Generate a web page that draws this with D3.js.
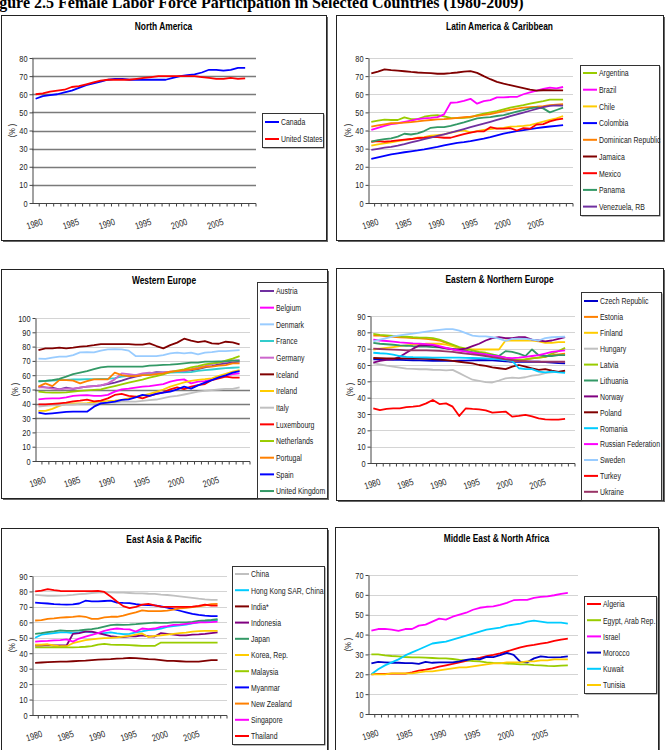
<!DOCTYPE html>
<html>
<head>
<meta charset="utf-8">
<script src="https://cdn.jsdelivr.net/npm/d3@7"></script>
<style>
  body { margin: 0; background: #fff; }
  svg { display: block; font-family: "Liberation Sans", Arial, sans-serif; }
</style>
</head>
<body>
<div id="chart"></div>
<script>
// categories
const years = [1980, 1981, 1982, 1983, 1984, 1985, 1986, 1987, 1988, 1989, 1990, 1991, 1992, 1993, 1994,
  1995, 1996, 1997, 1998, 1999, 2000, 2001, 2002, 2003, 2004, 2005, 2006, 2007, 2008, 2009];
const axisYears = years.concat([2010]); // excel leaves one empty slot at the end
const tickYears = [1980, 1985, 1990, 1995, 2000, 2005];

// North America
const naCountries = ["Canada", "United States"];
const canada = [57.5,59,59.5,60,61,62,63.5,65,66,67,68,68.5,68.5,68,68,68,68,68,68,69,70,70.5,71,72,73.5,73.5,73,73.5,74.5,74.5];
const unitedStates = [60,60.5,61.5,62,62.5,64,64.5,65.5,66.5,67.5,68,68,68,68,68.5,69,69.5,70,70,70,70,70,70,69.5,69,68.5,68.5,69,68.5,68.8];

// Latin America & Caribbean
const laCountries = ["Argentina", "Brazil", "Chile", "Colombia", "Dominican Republic", "Jamaica", "Mexico", "Panama", "Venezuela, RB"];
const argentina = [44.8,45.5,46,45.8,45.8,47.2,46.3,46.3,47.6,48.2,48.5,47.8,47,46.8,47,47.2,48.5,49.3,50,50.7,51.7,52.6,53.3,54,54.8,55.5,56.2,57,57,57];
const brazil = [40.3,41.5,42.6,43.5,44,44.8,45.5,46.3,46.7,47,47.4,48.9,55.3,55.5,56.4,57.5,54.8,56.2,56.8,58.3,58.3,58.5,58.5,60,61,62,62.9,63.6,63.2,64];
const chile = [31.6,32.4,32.9,33.5,34.2,34.7,35.3,36,36.4,37.1,37.5,37.9,38.8,39.5,40.1,39,39.7,40.3,40.8,41.2,41.5,42.1,42.3,42.6,43,43.9,44.9,45.8,46.7,48];
const colombia = [24.3,25.2,26,26.8,27.4,28,28.5,29,29.6,30.3,31,31.8,32.5,33.2,33.6,34.1,34.8,35.5,36.3,37.3,38.3,39,39.6,40.2,40.8,41.3,41.8,42.2,42.6,43];
const dominicanRep = [42.1,42.8,43.4,44,44.1,44.3,44.6,45,45.5,45.8,46.1,46.3,46.6,47,47.3,47.6,48.1,48.6,49.1,49.8,50.7,51.4,52.1,52.6,52.9,53.1,53.5,54,54.3,54.6];
const jamaica = [71.5,72.5,73.7,73.3,73,72.7,72.3,72,71.8,71.6,71.3,71.3,71.6,72,72.5,72.8,71.8,70,68.3,66.8,65.8,65,64.2,63.4,62.5,62,62.2,62.2,62.1,62.1];
const mexico = [33.8,34.1,33.8,34.1,34.6,35,35.3,35.8,36,36.3,36.3,36,36,37,38,38.8,39.5,39.5,41.8,41,41,41.3,40,41.3,41,43.3,43.5,45,46,46.5];
const panama = [33.8,34.7,35.2,35.7,36.6,38.2,37.8,38.4,39.7,41.5,41.9,41.9,42.6,43.5,44.5,45.6,46.7,47.1,47.4,48,48.5,49.4,50.4,51.3,52.2,52.8,52.2,50,51.3,52.6];
const venezuela = [29.3,29.9,30.5,31,31.7,32.5,33.4,34.3,35.2,36.1,37,37.9,38.8,39.8,40.8,41.8,42.8,43.8,44.8,45.8,46.8,47.9,48.9,49.9,50.9,51.9,52.9,53.6,53.9,53.7];

// Western Europe
const weCountries = ["Austria", "Belgium", "Denmark", "France", "Germany", "Iceland", "Ireland", "Italy", "Luxembourg", "Netherlands", "Portugal", "Spain", "United Kingdom"];
const austria = [52,51.5,51.3,50.1,51.3,50.5,51.3,52,52.4,52.9,53.8,54.8,56.2,57.8,59,60,61.3,62.2,62,62.2,62.5,62.9,63.4,64.3,65.5,66.4,67.6,68.3,69,69.5];
const belgium = [43.1,43.6,43.8,43.8,44.5,45.5,45.9,46,45.6,45.5,46.2,48.5,50.1,50.6,51.3,52,52.4,53.1,53.8,55.5,56.6,57.1,54.3,55.5,55.8,57.1,59,59.9,60.8,61.3];
const denmark = [71.6,71.4,72.3,73,73,74.1,76,76.2,76,77.2,78.1,78.3,78.1,77.2,73.4,73.4,73.4,73.4,74.1,75.3,75.8,75.3,75.8,74.6,75.8,76.2,76.9,76.9,77.2,77.6];
const france = [55.5,56,56.3,56.5,56.8,57,57,57.2,57.3,57.5,57.5,58,59,59.5,60,60.5,61,61.2,61.5,61.8,62,62,62.2,63,63.5,64,64.5,65,65.2,65.5];
const germany = [51.5,51.5,50.6,50.1,50.6,50.6,51.3,52,52.4,52.9,54.3,57.1,61.3,60.8,60.1,61.3,61.8,61.3,61.8,62.5,62.9,63.1,64.1,65.5,66.4,67.8,68.8,69.5,70.2,70.6];
const iceland = [77.6,78.8,78.8,79.3,78.8,79.3,80,80.4,81,81.8,81.8,81.8,81.8,81.8,81.4,81.4,82.3,80.4,78.8,81,82.8,85.5,84.1,83.2,83.9,82.3,82,83.4,83,81.6];
const ireland = [35,35,36.5,38.5,40,40.2,40.2,40.5,41,41.5,41.8,42.2,42.8,43.8,45,45.8,46.9,48.3,50,52,53.5,55,56,56.8,57.2,57.8,59.5,61,62.5,63.5];
const italy = [38,38.5,39,39,39.5,39.5,40,40,40,40.5,41,41,41.5,41.5,41.5,42,42.5,43,44,45,45.5,46.5,47.5,48.5,49,49.5,50,50.5,50.5,51.5];
const luxembourg = [39.6,39.6,39.9,40.3,40.8,41.7,42.2,42.9,41.7,42.2,43.8,46.2,46.9,45.5,45,43.8,45.5,46.9,48,50.1,51.5,50.3,52,53.1,53.8,56.6,57.8,59,58.3,58.3];
const netherlands = [48.5,48,47.8,47.8,48,48.5,49,49.4,49.7,50.1,51.3,52.4,53.6,54.8,55.9,56.9,58.3,59.4,60.6,62.2,63.2,64.1,65.5,66.4,67.6,68.3,68.8,70.2,71.6,73.4];
const portugal = [52,54.3,52.4,56.6,56.6,56.2,54.3,55.9,57.1,57.1,57.1,61.8,60.1,59.4,59.4,60,60,60.8,61.3,62.5,62.9,63.6,64.1,64.6,66,66,66.7,67.1,68.3,68.3];
const spain = [33.8,32.9,33.3,33.8,34.3,34.5,34.5,34.5,38,40.3,40.8,41.5,42.7,43.1,44.5,46.2,45.5,46.9,47.8,48.5,50.1,52,50.6,52.9,54.8,56.6,58.5,59.9,61.8,62.9];
const unitedKingdom = [55.9,56,56.5,57.5,59,60.8,61.8,62.8,64.2,65.5,66,66,66,66,66,66,66.7,66.9,67.2,67.4,67.8,68.3,68.8,68.8,69.5,69.5,69.7,69.7,70.2,70.2];

// Eastern & Northern Europe
const enCountries = ["Czech Republic", "Estonia", "Finland", "Hungary", "Latvia", "Lithuania", "Norway", "Poland", "Romania", "Russian Federation", "Sweden", "Turkey", "Ukraine"];
const czech = [63.5,63.4,63.3,63.2,63.1,63,62.9,62.8,62.7,62.6,62.5,62.5,62.5,62.6,62.7,62.8,62.9,63,62.8,62.5,62.2,62,62,62,62,62,61.8,61.5,61.2,61];
const estonia = [78,78,77.5,77.2,77,76.8,76.5,76.3,76,75.5,75,73.5,72,70.5,69,67.5,66.5,66,65,64,63,62.5,62.5,63.5,64,64.5,65,66,66.5,67];
const finland = [69.5,70,70.5,71,71.5,72,72.5,72.5,73,73,73,72.5,71.5,70.5,70,69.5,69.5,69.5,69.5,69.5,75,75,75,75,75,74.5,73.5,73.5,74,74];
const hungary = [61,60.4,59.6,59,58.4,57.8,57.6,57.4,57.4,57.1,57,56.7,57,55,53,51,50.3,49.5,49.3,50.5,51.8,52.3,52,52.5,53.5,54,55,55.5,56,56.3];
const latvia = [79,78.5,78.2,77.8,77.5,77.3,77,76.8,76.7,76.5,75.5,74,72.5,71,70,69,68,67.5,66.5,65.5,64.5,63.5,63.3,63.5,64,64.5,65,67,68.5,70.5];
const lithuania = [73.5,73,72.7,72.4,72,71.8,71.5,71.3,71.2,71,70.8,70.3,69.8,69.2,68.5,67.8,67.2,66.5,66,65.5,68.5,68,67,65.5,69.5,66,65.5,65.5,66,66];
const norway = [61.5,62.5,63.2,63.5,65,67.5,70,72,72.2,72,71,70.2,69.5,69.5,70,71.5,73,75,76.5,77,76.5,76.5,77,77,75.5,75,74.5,75,76,77];
const poland = [64.3,64.2,64.1,64,64,64,64,63.9,63.8,63.6,63.3,63,62.5,62,61.5,61,60,59.5,58.5,58,57.5,59,60,59,58,57,57.5,56.5,55.8,56.5];
const romania = [67.5,67.2,67,66.3,65.5,65,64.8,64.7,64.6,64.5,64.5,64.5,64.5,64.5,64.4,64.3,64.2,64,63.8,63.5,63,62.5,58,57.5,57.5,56,55.5,56,55.5,55.2];
const russia = [75.5,75,74.7,74.3,73.9,73.6,73.3,73.1,72.8,72.5,71.5,70.5,69.5,68.8,68.2,67.5,67,66.5,65.8,65.2,64.5,64.2,64.5,65,65.5,66,67,68,68.5,69];
const sweden = [74.5,75.5,76.5,77.5,78.2,78.7,79.2,79.8,80.4,81,81.5,82,82,81,79.5,78,77.5,77.5,77,76.2,74.8,76,76.2,76,75.5,75,76.5,77,77.2,77.3];
const turkey = [33.5,32.4,33.2,33.5,33.5,34.2,34.5,35,36.5,38.6,36.1,36.5,34.5,28.8,33.5,33.1,32.8,32.2,30.8,31.2,31.5,28.4,28.8,29.5,28.5,27.3,26.7,26.6,26.6,27];
const ukraine = [70,69.8,69.6,69.4,69.2,69,69,69,69,68.8,68.6,68.3,68,67.5,67,66.5,66,65.5,64.8,64.2,63.5,63,62.5,62.3,62.1,62,62,62,62,62];

// East Asia & Pacific
const eaCountries = ["China", "Hong Kong SAR, China", "India*", "Indonesia", "Japan", "Korea, Rep.", "Malaysia", "Myanmar", "New Zealand", "Singapore", "Thailand"];
const china = [77.8,77.5,77.2,77.2,77.3,77.5,77.8,78.2,78.5,79,79.3,79.4,79.4,79.3,79.2,79,78.8,78.7,78.5,78.4,78,77.7,77.3,76.8,76.3,75.8,75.3,74.9,74.6,74.5];
const hongKong = [50,52,52.5,53,53.5,53.5,53,53.5,54,53.5,53,53,53.5,52.8,52.3,52.5,53.5,54.2,55,55.3,56,57,57.5,58,58.5,59.3,60,60.5,61,61.5];
const india = [33.8,34,34.2,34.4,34.5,34.6,34.8,35,35.2,35.5,35.8,36,36.2,36.5,36.7,37,36.8,36.5,36.2,36,35.5,35,35,34.8,34.6,34.5,34.5,35,35.5,35.5];
const indonesia = [45,45,45.2,45,45,45,52.5,53,54,54,53,52,51,50.5,50.5,51,51,51.5,51,50.8,53,52.5,52,51.5,51.5,52,52.2,52.5,53,53.5];
const japan = [52.5,53,53.7,54.2,54.8,54.5,54.5,54.8,55.2,55.6,56.2,57.2,58.2,58.5,58.3,58.5,58.8,59.2,59.5,59.8,59.7,59.7,60,60,60,60.3,61,61.2,61.5,62];
const korea = [45.5,45.5,45.8,45,44.5,44.5,46.5,47.5,48.5,49,49.5,49.8,50,50.3,50.8,51.2,52,52.8,50.5,51.2,51.5,52,52.5,53,53.3,54,54.3,54.5,54.5,54.5];
const malaysia = [43.8,43.8,43.8,43.8,43.8,43.8,43.8,43.9,44.2,44.6,45.5,46,45.6,45.4,45.4,45.2,45,44.8,44.7,44.7,46.9,46.9,46.9,46.9,46.9,46.9,46.9,46.9,46.9,46.9];
const myanmar = [72.8,72.5,72.2,71.8,71.6,71.5,71.6,72.2,74,73.6,73.6,73.8,74,72.8,72.6,72.5,71.8,71.3,71.2,71,70.4,69.5,68.5,67.5,66.5,65.5,64.8,64.3,64,64];
const newZealand = [61.2,61.4,62.3,62.5,63,63.3,63.5,64,63.6,62.2,62.3,63.2,63.6,63.6,64.3,65.5,66.5,67.8,67.2,67.2,67.3,67.6,68.2,69,69.4,69.9,70.4,71,71.8,72];
const singapore = [47.5,47.8,48,48.3,48.5,49,47.5,49.5,50.8,51.8,53,54.5,55.5,56,55.6,55.5,54,56,55.6,56,57,57.5,58.3,58.5,59,59.5,60,60,60.2,60.5];
const thailand = [80,80.5,81.5,80.8,80.3,80.2,80.2,80.2,80.2,80.2,80.3,79.7,76.7,73.5,70.5,69.2,70,71.5,72,71,70.2,70,70,70,70,70.2,70.6,71.5,70.8,70.8];

// Middle East & North Africa
const meCountries = ["Algeria", "Egypt, Arab Rep.", "Israel", "Morocco", "Kuwait", "Tunisia"];
const algeria = [20,20.2,20.2,20.3,20.3,20.3,21,21.8,22.3,23,23.8,24.5,25.2,26,26.7,27.5,28.3,29.2,29.8,30.5,31.5,32.5,33.5,34.3,34.8,35.4,36,36.8,37.5,38];
const egypt = [30,30,29.5,29.2,29,28.7,28.5,28.5,28.4,28.2,28,28,27.7,27.3,27,26.7,26.5,26,25.7,25.6,25.4,25.2,25,25,24.6,24.5,24.2,24.1,24.4,24.5];
const israel = [42,42.8,42.9,42.5,41.9,42.8,42.8,44.5,45,46.5,48,47.5,49,50,51,52.5,53.5,54,54.2,55,56,57.3,57.5,57.5,58.5,59,59.2,59.8,60.5,61];
const morocco = [25.5,26.2,26,25.8,25.8,25.6,25.6,25.2,26.2,25.8,26,26,26,26.5,27.2,27.8,27.5,28.8,28.6,29.6,30.8,29.8,26.2,26,28,29,28.6,28.5,28.6,29];
const kuwait = [20,22.5,24.5,26,27.5,29.5,31,32.5,34,35.5,36,36.5,37.5,38.5,39.5,40.5,41.5,42.5,43,43.5,44.5,45,45.5,46.5,47,46.5,46,46,46,45.5];
const tunisia = [20,20,20,20.5,20.5,20.5,20.5,21,21.5,21.5,22,22.5,23,23.5,23.5,24,24.5,25,25.5,25.5,26,26,26,26.5,26.5,27,27,27.5,27.5,27.5];

const panels = [
  { title: "North America", names: naCountries, series: [canada, unitedStates],
    colors: ["#0000FF", "#FF0000"],
    box: [1, 15, 326, 240], plot: [32, 256, 58, 203], yMax: 80, darkGrid: [10, 20, 30, 40, 50, 60, 70, 80],
    legend: [262, 113, 323, 147], legendY: 122, legendStep: 17 },
  { title: "Latin America & Caribbean", names: laCountries,
    series: [argentina, brazil, chile, colombia, dominicanRep, jamaica, mexico, panama, venezuela],
    colors: ["#99CC00", "#FF00FF", "#FFCC00", "#0000FF", "#FF8000", "#800000", "#FF0000", "#339966", "#7030A0"],
    box: [336, 15, 663, 240], plot: [368, 573, 58, 203], yMax: 80, darkGrid: [],
    legend: [580, 65, 659, 215], legendY: 73, legendStep: 16.7 },
  { title: "Western Europe", names: weCountries,
    series: [austria, belgium, denmark, france, germany, iceland, ireland, italy, luxembourg, netherlands, portugal, spain, unitedKingdom],
    colors: ["#7030A0", "#FF00FF", "#99CCFF", "#33CCCC", "#CC66CC", "#800000", "#FFCC00", "#C0C0C0", "#FF0000", "#99CC00", "#FF8000", "#0000FF", "#339966"],
    box: [1, 269, 327, 498], plot: [35, 250, 318, 461], yMax: 100, darkGrid: [30, 40, 50],
    legend: [257, 282, 327, 498], legendY: 291, legendStep: 16.67 },
  { title: "Eastern & Northern Europe", names: enCountries,
    series: [czech, estonia, finland, hungary, latvia, lithuania, norway, poland, romania, russia, sweden, turkey, ukraine],
    colors: ["#0000CC", "#FF8000", "#FFCC00", "#C0C0C0", "#99CC00", "#339966", "#800080", "#800000", "#00CCFF", "#FF00FF", "#99CCFF", "#FF0000", "#993366"],
    box: [336, 268, 663, 500], plot: [370, 575, 316, 463], yMax: 90, darkGrid: [],
    legend: [581, 292, 661, 500], legendY: 301, legendStep: 15.9 },
  { title: "East Asia & Pacific", names: eaCountries,
    series: [china, hongKong, india, indonesia, japan, korea, malaysia, myanmar, newZealand, singapore, thailand],
    colors: ["#C0C0C0", "#00CCFF", "#800000", "#800080", "#339966", "#FFCC00", "#99CC00", "#0000FF", "#FF8000", "#FF00FF", "#FF0000"],
    box: [1, 528, 327, 760], plot: [32, 227, 576, 715], yMax: 90, darkGrid: [],
    legend: [232, 566, 324, 744], legendY: 574, legendStep: 16.2 },
  { title: "Middle East & North Africa", names: meCountries,
    series: [algeria, egypt, israel, morocco, kuwait, tunisia],
    colors: ["#FF0000", "#99CC00", "#FF00FF", "#0000CC", "#00CCFF", "#FFCC00"],
    box: [335, 527, 658, 760], plot: [368, 578, 575, 714], yMax: 70, darkGrid: [],
    legend: [584, 596, 656, 693], legendY: 604, legendStep: 16.2 }
];

// no narrow sans installed, so squeeze the regular one horizontally
const narrow = 0.78;
const legendNarrow = 0.73;

const svg = d3.select("#chart").append("svg")
  .attr("width", 666)
  .attr("height", 750);

svg.append("text")
  .attr("x", -15).attr("y", 8)
  .style("font-family", "'Liberation Serif', 'Times New Roman', serif")
  .style("font-weight", "bold")
  .style("font-size", "16px")
  .text("Figure 2.5 Female Labor Force Participation in Selected Countries (1980-2009)");

panels.forEach(p => drawPanel(p));

function drawPanel(p) {
  const [bx0, by0, bx1, by1] = p.box;
  const [px0, px1, pyTop, pyBottom] = p.plot;
  const g = svg.append("g");

  // frame with excel-ish shadow
  g.append("rect")
    .attr("x", bx0 + 2).attr("y", by0 + 2)
    .attr("width", bx1 - bx0).attr("height", by1 - by0)
    .attr("fill", "#666");
  g.append("rect")
    .attr("x", bx0 + 0.5).attr("y", by0 + 0.5)
    .attr("width", bx1 - bx0).attr("height", by1 - by0)
    .attr("fill", "#fff").attr("stroke", "#222");

  g.append("text")
    .attr("transform", `translate(${(bx0 + bx1) / 2},${by0 + 15}) scale(0.8,1)`)
    .attr("text-anchor", "middle")
    .style("font-weight", "bold").style("font-size", "10.5px")
    .text(p.title);

  const x = d3.scaleBand().domain(axisYears).range([px0, px1]);
  const y = d3.scaleLinear().domain([0, p.yMax]).range([pyBottom, pyTop]);
  const yTicks = d3.range(0, p.yMax + 1, 10);

  // gridlines
  g.append("g").selectAll("line")
    .data(yTicks.filter(d => d > 0))
    .join("line")
    .attr("x1", px0).attr("x2", px1)
    .attr("y1", d => Math.round(y(d)) + 0.5).attr("y2", d => Math.round(y(d)) + 0.5)
    .attr("stroke", d => p.darkGrid.includes(d) ? "#7a7a7a" : "#d4d4d4")
    .attr("stroke-width", d => p.darkGrid.includes(d) ? 1.4 : 1);

  // y axis
  const yAxis = g.append("g")
    .attr("transform", `translate(${px0 + 0.5},0)`)
    .call(d3.axisLeft(y).tickValues(yTicks).tickSize(3).tickSizeOuter(0));
  yAxis.select(".domain").attr("stroke", "#444");
  yAxis.selectAll(".tick line").attr("stroke", "#444");
  yAxis.selectAll(".tick text")
    .attr("x", null)
    .attr("transform", `translate(-5,0) scale(${narrow},1)`)
    .style("font-family", "inherit").style("font-size", "9.5px").attr("fill", "#222");

  // x axis: ticks between categories like excel
  const xBase = Math.round(pyBottom) + 0.5;
  g.append("line")
    .attr("x1", px0).attr("x2", px1)
    .attr("y1", xBase).attr("y2", xBase)
    .attr("stroke", "#444");
  g.append("g").selectAll("line")
    .data(axisYears)
    .join("line")
    .attr("x1", d => x(d) + x.bandwidth()).attr("x2", d => x(d) + x.bandwidth())
    .attr("y1", xBase).attr("y2", xBase + 3)
    .attr("stroke", "#444");

  g.append("g").selectAll("text")
    .data(tickYears)
    .join("text")
    .attr("transform", d => `translate(${x(d) + x.bandwidth() / 2},${pyBottom + 24}) rotate(-18) scale(${narrow},1)`)
    .attr("text-anchor", "middle")
    .style("font-size", "9.5px").attr("fill", "#222")
    .text(d => d);

  g.append("text")
    .attr("transform", `translate(${px0 - 17},${(pyTop + pyBottom) / 2}) rotate(-90) scale(${narrow},1)`)
    .attr("text-anchor", "middle")
    .style("font-size", "9.5px").attr("fill", "#222")
    .text("(% )");

  // series lines
  const line = d3.line()
    .x((d, i) => x(years[i]) + x.bandwidth() / 2)
    .y(d => y(d));

  g.append("g").selectAll("path")
    .data(p.series)
    .join("path")
    .attr("d", line)
    .attr("fill", "none")
    .attr("stroke", (d, i) => p.colors[i])
    .attr("stroke-width", 1.8)
    .attr("stroke-linejoin", "round");

  // legend
  const [lx0, ly0, lx1, ly1] = p.legend;
  g.append("rect")
    .attr("x", lx0 + 1.5).attr("y", ly0 + 1.5)
    .attr("width", lx1 - lx0).attr("height", ly1 - ly0)
    .attr("fill", "#777");
  g.append("rect")
    .attr("x", lx0 + 0.5).attr("y", ly0 + 0.5)
    .attr("width", lx1 - lx0).attr("height", ly1 - ly0)
    .attr("fill", "#fff").attr("stroke", "#333");

  const item = g.append("g").selectAll("g")
    .data(p.names)
    .join("g")
    .attr("transform", (d, i) => `translate(${lx0 + 3},${p.legendY + i * p.legendStep})`);
  item.append("line")
    .attr("x1", 0).attr("x2", 14)
    .attr("stroke", (d, i) => p.colors[i])
    .attr("stroke-width", 2);
  item.append("text")
    .attr("transform", `translate(16,0) scale(${legendNarrow},1)`)
    .attr("dy", "0.35em")
    .style("font-size", "9.5px").attr("fill", "#222")
    .text(d => d);
}
</script>
</body>
</html>
